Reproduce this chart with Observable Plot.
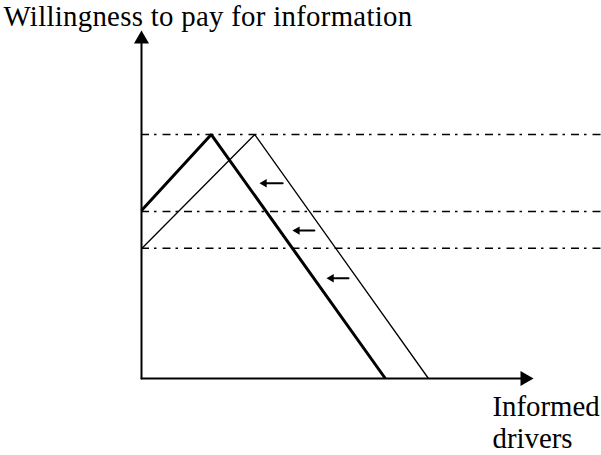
<!DOCTYPE html>
<html>
<head>
<meta charset="utf-8">
<script src="https://cdn.jsdelivr.net/npm/d3@7"></script>
<script src="https://cdn.jsdelivr.net/npm/@observablehq/plot@0.6"></script>
<style>
  html, body { margin: 0; padding: 0; background: #fff; }
  svg { display: block; overflow: visible; }
</style>
</head>
<body>
<div id="chart"></div>
<script>
// Axis titles
const yTitle = "Willingness to pay for information";
const xTitle = "Informed\ndrivers";

// Thick (shifted) willingness curve
const thickX = [0, 17.8, 62.2];
const thickY = [48.3, 70.1, 0];
// Thin (original) willingness curve
const thinX = [0, 28.9, 73.2];
const thinY = [37.3, 70.1, 0];

// Horizontal dash-dot reference levels
const levels = [70.1, 48.0, 37.4];
const levelEnd = 117.3;

// Shift arrows (pointing left)
const shiftTailX = [36.0, 44.1, 52.8];
const shiftTipX = [30.1, 38.5, 47.2];
const shiftY = [56.1, 42.5, 28.8];

// Axis extents
const axisMax = [100];

const thick = thickX.map((x, i) => ({x, y: thickY[i]}));
const thin = thinX.map((x, i) => ({x, y: thinY[i]}));
const shifts = shiftY.map((y, i) => ({x1: shiftTailX[i], x2: shiftTipX[i], y}));

const font = "Liberation Serif";

const plot = Plot.plot({
  width: 601,
  height: 455,
  marginLeft: 141,
  marginRight: 68,
  marginTop: 30,
  marginBottom: 77,
  x: {domain: [0, 100], axis: null},
  y: {domain: [0, 100], axis: null},
  marks: [
    // dash-dot levels
    Plot.ruleY(levels, {x1: 0, x2: levelEnd, stroke: "black", strokeWidth: 1.5, strokeDasharray: "8,5,2.5,6"}),
    // curves
    Plot.line(thin, {x: "x", y: "y", stroke: "black", strokeWidth: 1.3, strokeLinejoin: "miter", strokeLinecap: "butt"}),
    Plot.line(thick, {x: "x", y: "y", stroke: "black", strokeWidth: 3, strokeLinejoin: "miter", strokeLinecap: "butt"}),
    // axes
    Plot.arrow(axisMax, {x1: 0, y1: 0, x2: 0, y2: d => d, headLength: 0, insetEnd: 10, stroke: "black", strokeWidth: 2}),
    Plot.arrow(axisMax, {x1: 0, y1: 0, x2: d => d, y2: 0, headLength: 0, insetEnd: 10, stroke: "black", strokeWidth: 2}),
    Plot.dot(axisMax, {x: 0, y: d => d, symbol: "triangle", r: 5.6, dy: 8.66, fill: "black", stroke: null}),
    Plot.dot(axisMax, {x: d => d, y: 0, symbol: "triangle", r: 5.6, rotate: 90, dx: -8.66, fill: "black", stroke: null}),
    // shift arrows
    Plot.arrow(shifts, {x1: "x1", y1: "y", x2: "x2", y2: "y", headLength: 0, insetEnd: 5, stroke: "black", strokeWidth: 2}),
    Plot.dot(shifts, {x: "x2", y: "y", symbol: "triangle", r: 3.1, rotate: -90, dx: 4.8, fill: "black", stroke: null}),
    // titles
    Plot.text([yTitle], {frameAnchor: "top-left", text: d => d, textAnchor: "start", lineAnchor: "bottom", dx: -138, dy: -5, fontSize: 28.8, fontFamily: font, fill: "black"}),
    Plot.text([xTitle], {frameAnchor: "bottom-right", text: d => d, textAnchor: "start", lineAnchor: "bottom", lineHeight: 1.08, dx: -41, dy: 69, fontSize: 28.8, fontFamily: font, fill: "black"})
  ]
});
// slight tracking on the long title to match the reference width
d3.select(plot).selectAll("text").filter(function() { return this.textContent === yTitle; }).attr("letter-spacing", "0.3px");
document.getElementById("chart").appendChild(plot);
</script>
</body>
</html>
